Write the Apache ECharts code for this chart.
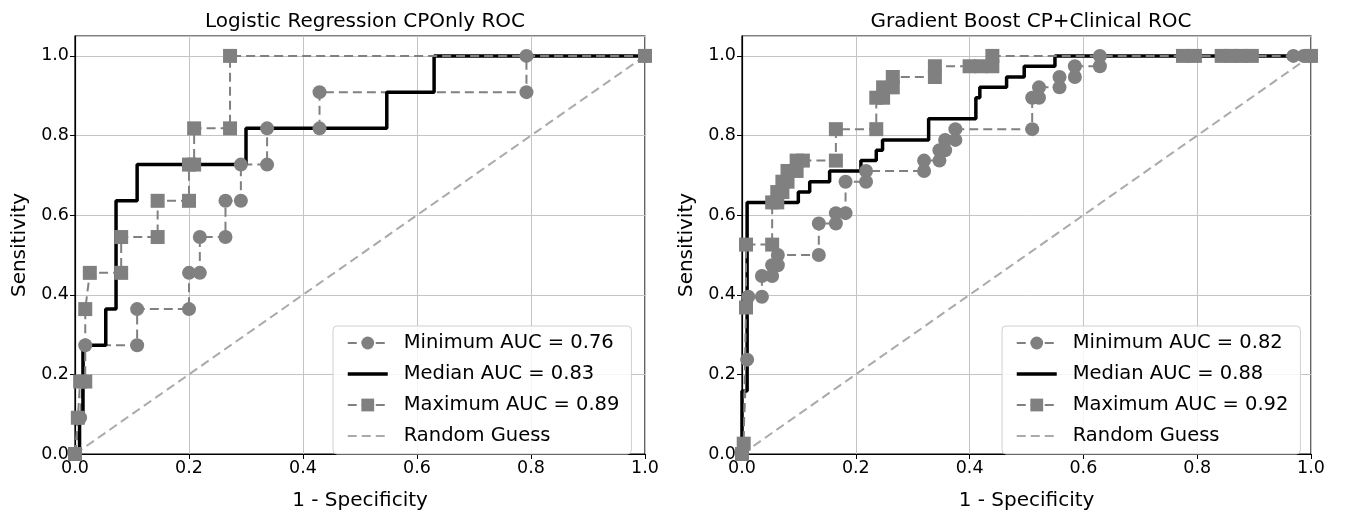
<!DOCTYPE html>
<html>
<head>
<meta charset="utf-8">
<script src="https://cdn.jsdelivr.net/npm/echarts@6/dist/echarts.min.js"></script>
<style>
  html, body { margin: 0; padding: 0; background: #fff; }
  #chart { width: 1346px; height: 516px; }
</style>
</head>
<body>
<div id="chart"></div>
<script>
// left plot: Logistic Regression CPOnly
var leftMinX = [0, 0.009, 0.018, 0.109, 0.109, 0.200, 0.200, 0.219, 0.219, 0.264, 0.264, 0.291, 0.291, 0.337, 0.337, 0.429, 0.429, 0.792, 0.792, 1.0];
var leftMinY = [0, 0.091, 0.273, 0.273, 0.364, 0.364, 0.455, 0.455, 0.545, 0.545, 0.636, 0.636, 0.727, 0.727, 0.818, 0.818, 0.909, 0.909, 1.0, 1.0];
var leftMedX = [0, 0.008, 0.008, 0.014, 0.014, 0.054, 0.054, 0.072, 0.072, 0.109, 0.109, 0.300, 0.300, 0.547, 0.547, 0.630, 0.630, 1.0];
var leftMedY = [0, 0, 0.091, 0.091, 0.273, 0.273, 0.364, 0.364, 0.636, 0.636, 0.727, 0.727, 0.818, 0.818, 0.909, 0.909, 1.0, 1.0];
var leftMaxX = [0, 0.005, 0.009, 0.018, 0.018, 0.026, 0.081, 0.081, 0.145, 0.145, 0.200, 0.200, 0.209, 0.209, 0.272, 0.272, 1.0];
var leftMaxY = [0, 0.091, 0.182, 0.182, 0.364, 0.455, 0.455, 0.545, 0.545, 0.636, 0.636, 0.727, 0.727, 0.818, 0.818, 1.0, 1.0];
var leftNames = ['Minimum AUC = 0.76', 'Median AUC = 0.83', 'Maximum AUC = 0.89'];

// right plot: Gradient Boost CP+Clinical
var rightMinX = [0, 0.009, 0.011, 0.035, 0.035, 0.053, 0.053, 0.063, 0.063, 0.135, 0.135, 0.165, 0.165, 0.182, 0.182, 0.218, 0.218, 0.320, 0.320, 0.347, 0.347, 0.357, 0.357, 0.375, 0.375, 0.510, 0.510, 0.522, 0.522, 0.558, 0.558, 0.585, 0.585, 0.629, 0.629, 0.969, 0.987, 1.0];
var rightMinY = [0, 0.237, 0.395, 0.395, 0.447, 0.447, 0.474, 0.474, 0.500, 0.500, 0.579, 0.579, 0.605, 0.605, 0.684, 0.684, 0.711, 0.711, 0.737, 0.737, 0.763, 0.763, 0.789, 0.789, 0.816, 0.816, 0.895, 0.895, 0.921, 0.921, 0.947, 0.947, 0.974, 0.974, 1.0, 1.0, 1.0, 1.0];
var rightMedX = [0, 0, 0.009, 0.009, 0.099, 0.099, 0.119, 0.119, 0.154, 0.154, 0.209, 0.209, 0.236, 0.236, 0.247, 0.247, 0.328, 0.328, 0.411, 0.411, 0.418, 0.418, 0.465, 0.465, 0.496, 0.496, 0.550, 0.550, 1.0];
var rightMedY = [0, 0.158, 0.158, 0.632, 0.632, 0.658, 0.658, 0.684, 0.684, 0.711, 0.711, 0.737, 0.737, 0.763, 0.763, 0.789, 0.789, 0.842, 0.842, 0.895, 0.895, 0.921, 0.921, 0.947, 0.947, 0.974, 0.974, 1.0, 1.0];
var rightMaxX = [0, 0.003, 0.007, 0.007, 0.053, 0.053, 0.062, 0.062, 0.071, 0.071, 0.080, 0.080, 0.096, 0.096, 0.107, 0.165, 0.165, 0.236, 0.236, 0.248, 0.248, 0.265, 0.265, 0.339, 0.339, 0.400, 0.420, 0.440, 0.440, 0.775, 0.796, 0.843, 0.860, 0.878, 0.896, 1.0];
var rightMaxY = [0, 0.026, 0.368, 0.526, 0.526, 0.632, 0.632, 0.658, 0.658, 0.684, 0.684, 0.711, 0.711, 0.737, 0.737, 0.737, 0.816, 0.816, 0.895, 0.895, 0.921, 0.921, 0.947, 0.947, 0.974, 0.974, 0.974, 0.974, 1.0, 1.0, 1.0, 1.0, 1.0, 1.0, 1.0, 1.0];
var rightNames = ['Minimum AUC = 0.82', 'Median AUC = 0.88', 'Maximum AUC = 0.92'];

var guessX = [0, 1];
var guessY = [0, 1];

var FONT = 'DejaVu Sans';
var GRAY = '#808080';

function pairs(xs, ys) {
    var out = [];
    for (var i = 0; i < xs.length; i++) out.push([xs[i], ys[i]]);
    return out;
}

function fmt(v) { return v.toFixed(1); }

function xAxisFor(idx) {
    return {
        gridIndex: idx, type: 'value', min: 0, max: 1, interval: 0.2,
        name: '1 - Specificity', nameLocation: 'middle', nameGap: 37,
        nameTextStyle: {fontFamily: FONT, fontSize: 20, color: '#000'},
        axisLine: {show: true, lineStyle: {color: '#000', width: 1.2}},
        axisTick: {show: true, length: 5, lineStyle: {color: '#000'}},
        axisLabel: {fontFamily: FONT, fontSize: 17.5, color: '#000', margin: 5, formatter: fmt},
        splitLine: {show: true, lineStyle: {color: '#c4c4c4', width: 1}}
    };
}

function yAxisFor(idx) {
    return {
        gridIndex: idx, type: 'value', min: 0, max: 1.05, interval: 0.2,
        name: 'Sensitivity', nameLocation: 'middle', nameGap: 45,
        nameTextStyle: {fontFamily: FONT, fontSize: 20, color: '#000'},
        axisLine: {show: true, lineStyle: {color: '#000', width: 1.2}},
        axisTick: {show: true, length: 5, lineStyle: {color: '#000'}},
        axisLabel: {fontFamily: FONT, fontSize: 17.5, color: '#000', margin: 6, formatter: fmt, showMaxLabel: false},
        splitLine: {show: true, lineStyle: {color: '#c4c4c4', width: 1}}
    };
}

function seriesFor(idx, names, minX, minY, medX, medY, maxX, maxY) {
    return [
        {
            name: names[0], type: 'line', xAxisIndex: idx, yAxisIndex: idx,
            data: pairs(minX, minY), symbol: 'circle', symbolSize: 14, showAllSymbol: true,
            itemStyle: {color: GRAY}, lineStyle: {color: GRAY, width: 2, type: [9, 5]},
            emphasis: {disabled: true}, animation: false
        },
        {
            name: names[1], type: 'line', xAxisIndex: idx, yAxisIndex: idx,
            data: pairs(medX, medY), symbol: 'none',
            itemStyle: {color: '#000'}, lineStyle: {color: '#000', width: 3.5},
            emphasis: {disabled: true}, animation: false
        },
        {
            name: names[2], type: 'line', xAxisIndex: idx, yAxisIndex: idx,
            data: pairs(maxX, maxY), symbol: 'rect', symbolSize: 14, showAllSymbol: true,
            itemStyle: {color: GRAY}, lineStyle: {color: GRAY, width: 2, type: [9, 5]},
            emphasis: {disabled: true}, animation: false
        },
        {
            name: 'Random Guess', type: 'line', xAxisIndex: idx, yAxisIndex: idx,
            data: pairs(guessX, guessY), symbol: 'none',
            itemStyle: {color: '#aaaaaa'}, lineStyle: {color: '#aaaaaa', width: 2, type: [9, 5]},
            emphasis: {disabled: true}, animation: false
        }
    ];
}

function legendFor(left, names) {
    var noMark = {opacity: 0};
    return {
        orient: 'vertical', left: left, top: 326,
        data: [
            {name: names[0]},
            {name: names[1], itemStyle: noMark, lineStyle: {width: 3.5, color: '#000'}},
            {name: names[2]},
            {name: 'Random Guess', itemStyle: noMark}
        ],
        itemWidth: 40, itemHeight: 16, itemGap: 11,
        padding: [7, 12, 8, 13],
        backgroundColor: 'rgba(255,255,255,0.85)',
        borderColor: '#d0d0d0', borderWidth: 1, borderRadius: 4,
        selectedMode: false,
        textStyle: {fontFamily: FONT, fontSize: 19.5, color: '#000', lineHeight: 20, padding: [0, 0, 0, 11]}
    };
}

var chart = echarts.init(document.getElementById('chart'));

chart.setOption({
    backgroundColor: '#fff',
    animation: false,
    title: [
        {text: 'Logistic Regression CPOnly ROC', left: 360, top: 7, textAlign: 'center',
         textStyle: {fontFamily: FONT, fontSize: 20, fontWeight: 'normal', color: '#000'}},
        {text: 'Gradient Boost CP+Clinical ROC', left: 1026, top: 7, textAlign: 'center',
         textStyle: {fontFamily: FONT, fontSize: 20, fontWeight: 'normal', color: '#000'}}
    ],
    grid: [
        {left: 75, top: 36, width: 570, height: 428, show: true, borderColor: '#000', borderWidth: 1.2, backgroundColor: 'transparent'},
        {left: 742, top: 36, width: 569, height: 428, show: true, borderColor: '#000', borderWidth: 1.2, backgroundColor: 'transparent'}
    ],
    xAxis: [xAxisFor(0), xAxisFor(1)],
    yAxis: [yAxisFor(0), yAxisFor(1)],
    legend: [legendFor(333, leftNames), legendFor(1002, rightNames)],
    series: seriesFor(0, leftNames, leftMinX, leftMinY, leftMedX, leftMedY, leftMaxX, leftMaxY)
        .concat(seriesFor(1, rightNames, rightMinX, rightMinY, rightMedX, rightMedY, rightMaxX, rightMaxY))
});
</script>
</body>
</html>
